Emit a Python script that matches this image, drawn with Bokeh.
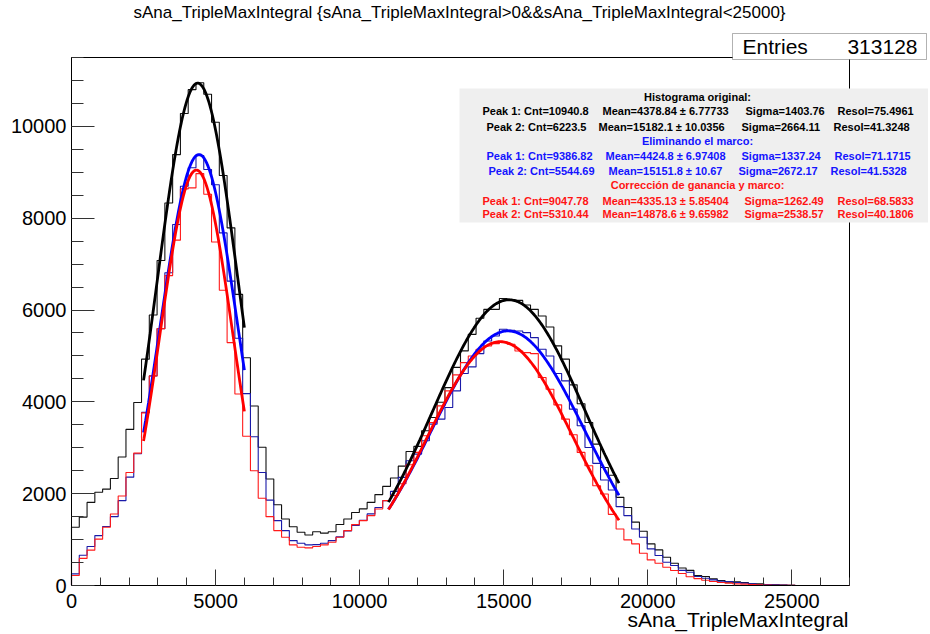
import numpy as np
from bokeh.plotting import figure
from bokeh.models import FixedTicker, Label, BoxAnnotation, Range1d
from bokeh.embed import file_html
from bokeh.resources import INLINE

# ---------------- data ----------------
N_BINS = 100
X_MIN, X_MAX = 0, 27000
Y_MAX = 11500
ENTRIES = 313128

black_counts = [1270, 1490, 1810, 2030, 2100, 2330, 2800, 3400, 3985, 4930,
                5890, 7080, 8330, 9385, 10280, 10800, 10950, 10700, 10090, 8930,
                7790, 6340, 4960, 3910, 3010, 2320, 1760, 1450, 1280, 1160,
                1100, 1170, 1140, 1170, 1330, 1450, 1590, 1670, 1810, 1980,
                2160, 2340, 2600, 2920, 3030, 3370, 3660, 3990, 4310, 4750,
                5110, 5470, 5820, 6015, 6015, 6250, 6230, 6210, 6110, 6015,
                5870, 5630, 5220, 4930, 4370, 3960, 3550, 3080, 2570, 2400,
                1920, 1700, 1380, 1180, 906, 775, 616, 486, 380, 330,
                217, 196, 145, 109, 72, 80, 65, 36, 36, 22,
                15, 10, 7, 0, 0, 0, 0, 0, 0, 0]

blue_counts = [254, 660, 850, 1087, 1285, 1500, 1848, 2360, 2870, 3770,
               4565, 5594, 6812, 7862, 8696, 9100, 9363, 9060, 8730, 7680,
               6630, 5385, 4180, 3240, 2460, 1860, 1413, 1196, 978, 920,
               884, 891, 920, 978, 1060, 1190, 1310, 1420, 1560, 1700,
               1848, 2050, 2355, 2717, 2862, 3152, 3515, 3623, 3877, 4239,
               4616, 4761, 5051, 5326, 5435, 5580, 5558, 5544, 5507, 5399,
               5145, 5000, 4616, 4457, 3841, 3478, 3007, 2660, 2297, 2080,
               1717, 1522, 1232, 1051, 797, 652, 507, 435, 330, 290,
               196, 159, 123, 94, 87, 65, 51, 36, 22, 18,
               14, 10, 5, 0, 0, 0, 0, 0, 0, 0]

red_counts = [217, 590, 770, 1010, 1270, 1558, 1950, 2460, 2884, 3760,
              4565, 5594, 6750, 7522, 8638, 8660, 8971, 8520, 7480, 6430,
              5290, 4170, 3250, 2500, 1900, 1500, 1196, 1051, 884, 833,
              819, 848, 884, 942, 1051, 1196, 1326, 1413, 1522, 1667,
              1848, 1960, 2217, 2631, 2899, 3261, 3551, 3913, 4239, 4587,
              4855, 5000, 5145, 5217, 5268, 5305, 5254, 5109, 5073, 5051,
              4529, 4276, 3935, 3623, 3283, 2899, 2609, 2174, 1993, 1550,
              1232, 993, 906, 703, 558, 486, 399, 326, 260, 190,
              150, 115, 87, 65, 51, 36, 29, 22, 15, 10,
              7, 5, 3, 0, 0, 0, 0, 0, 0, 0]

# Gaussian fit results shown in the box (peak 1, peak 2)
fit_ranges = [(2500, 6000), (11000, 19000)]
black_cnt = [10940.8, 6223.5]
black_mean = [4378.84, 15182.1]
black_mean_err = [6.77733, 10.0356]
black_sigma = [1403.76, 2664.11]
black_resol = [75.4961, 41.3248]

blue_cnt = [9386.82, 5544.69]
blue_mean = [4424.8, 15151.8]
blue_mean_err = [6.97408, 10.67]
blue_sigma = [1337.24, 2672.17]
blue_resol = [71.1715, 41.5328]

red_cnt = [9047.78, 5310.44]
red_mean = [4335.13, 14878.6]
red_mean_err = [5.85404, 9.65982]
red_sigma = [1262.49, 2538.57]
red_resol = [68.5833, 40.1806]

x_ticks = [0, 5000, 10000, 15000, 20000, 25000]
y_ticks = [0, 2000, 4000, 6000, 8000, 10000]

title_text = "sAna_TripleMaxIntegral {sAna_TripleMaxIntegral>0&&sAna_TripleMaxIntegral<25000}"
x_title = "sAna_TripleMaxIntegral"

FONT = "Liberation Sans"

# ---------------- figure ----------------
# pixel placement of the histogram frame inside the canvas
FRAME_L, FRAME_R, FRAME_T, FRAME_B = 71, 849, 57, 585
W, H = 928, 632


def dx(px):
    return (px - FRAME_L) / (FRAME_R - FRAME_L) * (X_MAX - X_MIN) + X_MIN


def dy(py):
    return (FRAME_B - py) / (FRAME_B - FRAME_T) * Y_MAX


p = figure(width=W, height=H, x_range=Range1d(dx(0), dx(W)), y_range=Range1d(dy(H), dy(0)),
           output_backend="svg", toolbar_location=None, min_border=0, title_location=None)
p.xgrid.visible = False
p.ygrid.visible = False
p.outline_line_color = None
p.background_fill_color = "white"
p.border_fill_color = "white"

# axes drawn at the frame edges
p.xaxis.fixed_location = 0
p.yaxis.fixed_location = 0
p.xaxis.bounds = (X_MIN, X_MAX)
p.yaxis.bounds = (0, Y_MAX)
p.xaxis.ticker = FixedTicker(ticks=x_ticks, minor_ticks=list(range(0, 27001, 1000)))
p.yaxis.ticker = FixedTicker(ticks=y_ticks, minor_ticks=list(range(0, 11501, 500)))
for ax in (p.xaxis, p.yaxis):
    ax.axis_line_color = "black"
    ax.major_tick_line_color = "#333333"
    ax.minor_tick_line_color = "#333333"
    ax.major_tick_out = 0
    ax.minor_tick_out = 0
    ax.major_label_text_font = FONT
    ax.major_label_text_font_size = "20px"
    ax.major_label_text_color = "black"
p.xaxis.major_tick_in = 16
p.xaxis.minor_tick_in = 8
p.yaxis.major_tick_in = 23
p.yaxis.minor_tick_in = 12
p.xaxis.major_label_standoff = 8
p.yaxis.major_label_standoff = 5

# frame box (top and right sides of the histogram frame)
p.quad(left=[X_MIN], right=[X_MAX], bottom=[0], top=[Y_MAX], fill_alpha=0,
       line_color="black", line_width=1)

# histograms (outline of bins)
edges = np.linspace(X_MIN, X_MAX, N_BINS + 1)


def hist_outline(counts):
    c = np.asarray(counts, dtype=float)
    xs = np.concatenate([[edges[0]], np.repeat(edges, 2)[1:-1], [edges[-1]]])
    ys = np.concatenate([[0.0], np.repeat(c, 2), [0.0]])
    return xs, ys


for counts, col in ((black_counts, "#111111"), (blue_counts, "#1a1aa8"), (red_counts, "#ff1a1a")):
    xs, ys = hist_outline(counts)
    p.line(xs, ys, line_color=col, line_width=1.1)

# gaussian fits
for cnt, mean, sig, col in ((black_cnt, black_mean, black_sigma, "black"),
                            (blue_cnt, blue_mean, blue_sigma, "#0000ff"),
                            (red_cnt, red_mean, red_sigma, "#ff0000")):
    for k, (lo, hi) in enumerate(fit_ranges):
        xf = np.linspace(lo, hi, 200)
        yf = cnt[k] * np.exp(-0.5 * ((xf - mean[k]) / sig[k]) ** 2)
        p.line(xf, yf, line_color=col, line_width=2.8)

# ---------------- texts ----------------
p.add_layout(Label(x=dx(459), y=dy(12), text=title_text, text_align="center",
                   text_baseline="middle", text_font=FONT, text_font_size="17px",
                   text_color="black"))
p.add_layout(Label(x=dx(848), y=dy(619), text=x_title, text_align="right",
                   text_baseline="middle", text_font=FONT, text_font_size="21px",
                   text_color="black"))

# stats box
p.add_layout(BoxAnnotation(left=dx(732), right=dx(926), top=dy(33), bottom=dy(59),
                           fill_color="white", fill_alpha=1, line_color="black", line_width=1))
p.add_layout(Label(x=dx(742), y=dy(46), text="Entries", text_align="left",
                   text_baseline="middle", text_font=FONT, text_font_size="21px",
                   text_color="black"))
p.add_layout(Label(x=dx(917), y=dy(46), text=f"{ENTRIES}", text_align="right",
                   text_baseline="middle", text_font=FONT, text_font_size="21px",
                   text_color="black"))

# fit results box
p.add_layout(BoxAnnotation(left=dx(459), right=dx(940), top=dy(88), bottom=dy(222),
                           fill_color="#efefef", fill_alpha=1, line_alpha=0))


def txt(px, py, s, col, align="left"):
    p.add_layout(Label(x=dx(px), y=dy(py), text=s, text_align=align, text_baseline="middle",
                       text_font=FONT, text_font_size="11px", text_font_style="bold",
                       text_color=col))


def peak_line(py, k, cnt, mean, err, sig, res, col, xs):
    txt(xs[0], py, f"Peak {k + 1}: Cnt={cnt[k]:g}", col)
    txt(xs[1], py, f"Mean={mean[k]:g} \u00b1 {err[k]:g}", col)
    txt(xs[2], py, f"Sigma={sig[k]:g}", col)
    txt(xs[3], py, f"Resol={res[k]:g}", col)


txt(697, 96, "Histograma original:", "black", "center")
peak_line(110, 0, black_cnt, black_mean, black_mean_err, black_sigma, black_resol, "black", (482, 602, 745, 837))
peak_line(126, 1, black_cnt, black_mean, black_mean_err, black_sigma, black_resol, "black", (486, 598, 741, 833))
txt(697, 140, "Eliminando el marco:", "#1414ff", "center")
peak_line(155, 0, blue_cnt, blue_mean, blue_mean_err, blue_sigma, blue_resol, "#1414ff", (486, 605, 741, 834))
peak_line(170, 1, blue_cnt, blue_mean, blue_mean_err, blue_sigma, blue_resol, "#1414ff", (488, 608, 738, 830))
txt(697, 184, "Corrección de ganancia y marco:", "#ff1414", "center")
peak_line(200, 0, red_cnt, red_mean, red_mean_err, red_sigma, red_resol, "#ff1414", (482, 602, 744, 837))
peak_line(213, 1, red_cnt, red_mean, red_mean_err, red_sigma, red_resol, "#ff1414", (482, 602, 744, 837))

open("out.html", "w").write(file_html(p, INLINE))
